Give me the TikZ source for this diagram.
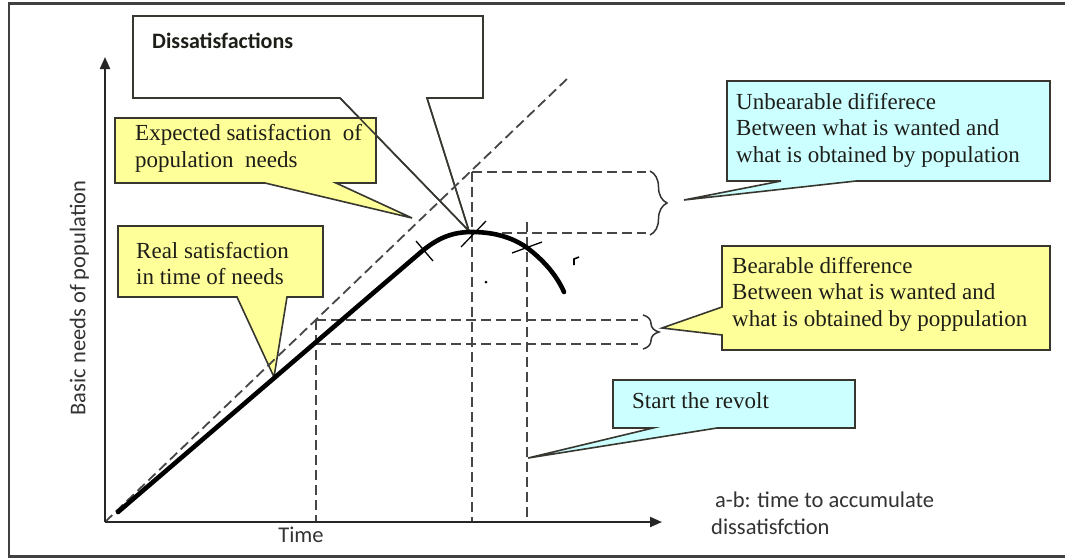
\documentclass[tikz,border=0pt]{standalone}
\usepackage{fontspec}
\setmainfont{Liberation Serif}
\newfontfamily\calib{Carlito}
\usetikzlibrary{arrows.meta,decorations.pathreplacing}
\definecolor{cyellow}{RGB}{255,255,153}
\definecolor{ccyan}{RGB}{204,255,255}
\definecolor{cborder}{RGB}{55,55,48}
\definecolor{ctext}{RGB}{30,30,25}
\definecolor{cdash}{RGB}{70,70,70}
\tikzset{
  calloutbox/.style={draw=cborder, line width=1.6pt, line join=miter},
  legline/.style={draw=cborder, line width=1.5pt},
  dashln/.style={draw=cdash, line width=1.8pt, dash pattern=on 10pt off 5pt},
  serift/.style={font=\fontsize{23}{26.5}\selectfont, text=ctext, inner sep=0pt, align=left, anchor=north west},
  sanst/.style={font=\calib\fontsize{22.5}{27}\selectfont, text=black!80, inner sep=0pt},
  tickln/.style={draw=black, line width=1.3pt},
  axisln/.style={draw=black!85, line width=2pt, -{Triangle[length=12pt,width=10pt]}},
  bracedec/.style={draw=black!80, line width=1.5pt, decorate, decoration={brace, amplitude=#1}},
}
\begin{document}
\begin{tikzpicture}[x=1pt, y=-1pt]
\useasboundingbox (0,0) rectangle (1065,558);
\fill[white] (0,0) rectangle (1065,558);
% frame
\draw[line width=2.6pt, black!75] (9,3.5) rectangle (1085,556.5);

% key points
\coordinate (O) at (105,522);
\coordinate (ytop) at (105,57);
\coordinate (xend) at (662,522);
\coordinate (dend) at (568,78);
\coordinate (peak) at (472,232);

% Dissatisfactions callout
\filldraw[fill=white, calloutbox] (133,16) -- (483,16) -- (483,98) -- (427,98) -- (469,231) -- (340,98) -- (133,98) -- cycle;
\node[anchor=base west, font=\calib\bfseries\fontsize{22}{26}\selectfont, text=ctext, inner sep=0pt] (dis) at (152,48) {Dissatisfactions};
\coordinate (disL) at (340,98);
\coordinate (disR) at (427,98);
\coordinate (disT) at (469,231);

% Expected callout
\filldraw[fill=cyellow, calloutbox] (115,118) -- (376,118) -- (376,183) -- (336,183) -- (412,218) -- (265,183) -- (115,183) -- cycle;
\node[serift] (exp) at (135,124.3) {Expected satisfaction\ \ of\\population\ \ needs};
\draw[legline] (disL) -- (disT) -- (disR);

% Real callout
\filldraw[fill=cyellow, calloutbox] (118,226) -- (323,226) -- (323,297) -- (287,297) -- (274,377) -- (237,297) -- (118,297) -- cycle;
\node[serift] (real) at (136,241.8) {Real satisfaction\\in time of needs};

% Unbearable callout
\filldraw[fill=ccyan, calloutbox] (727,81) -- (1050,81) -- (1050,181) -- (856,181) -- (684,200) -- (781,181) -- (727,181) -- cycle;
\node[serift] (unb) at (736,92.8) {Unbearable dififerece\\Between what is wanted and\\what is obtained by population};

% Bearable callout
\filldraw[fill=cyellow, calloutbox] (722,246) -- (1050,246) -- (1050,350) -- (722,350) -- (722,335) -- (662,328) -- (722,307) -- cycle;
\node[serift] (bea) at (732,256.8) {Bearable difference\\Between what is wanted and\\what is obtained by poppulation};

% Start the revolt callout
\filldraw[fill=ccyan, calloutbox] (613,380) -- (855,380) -- (855,428) -- (717,428) -- (528,458) -- (653,428) -- (613,428) -- cycle;
\node[anchor=base west, font=\fontsize{23}{26.5}\selectfont, text=ctext, inner sep=0pt] (rev) at (632,408.5) {Start the revolt};

% dashed guide lines
\draw[dashln] (O) -- (dend);
\draw[dashln] (472,172) -- (646,172);
\draw[dashln] (472,233) -- (646,233);
\draw[dashln] (472,172) -- (472,522);
\draw[dashln] (527,222) -- (527,522);
\draw[dashln] (316,320) -- (638,320);
\draw[dashln] (316,344) -- (638,344);
\draw[dashln] (316,320) -- (316,522);

% braces
\draw[bracedec=17pt] (650,171) -- (650,235);
\draw[bracedec=16pt] (643,315) -- (643,349);

% axes
\draw[axisln] (O) -- (ytop);
\draw[axisln] (O) -- (xend);

% real satisfaction curve
\draw[line width=4.6pt, line cap=round] (118,512) -- (421,252) .. controls (440,236) and (455,232) .. (peak) .. controls (495,232) and (515,238) .. (530,250) .. controls (545,262) and (557,276) .. (564,292);

% tick marks
\draw[tickln] (416,241) -- (433,261);
\draw[tickln] (461,247) -- (486,221);
\draw[tickln] (512,253) -- (542,242);
\fill (486,282) circle (1.5pt);
\draw[line width=1.6pt] (574,265) -- (574,259) -- (579,257);

% labels
\node[sanst, rotate=90] (ylab) at (79.5,298) {Basic needs of population};
\node[sanst] (xlab) at (301,535) {Time};
\node[sanst, anchor=base west] (ab1) at (715,507) {a-b: time to accumulate};
\node[sanst, anchor=base west] (ab2) at (711,534) {dissatisfction};
\end{tikzpicture}
\end{document}
